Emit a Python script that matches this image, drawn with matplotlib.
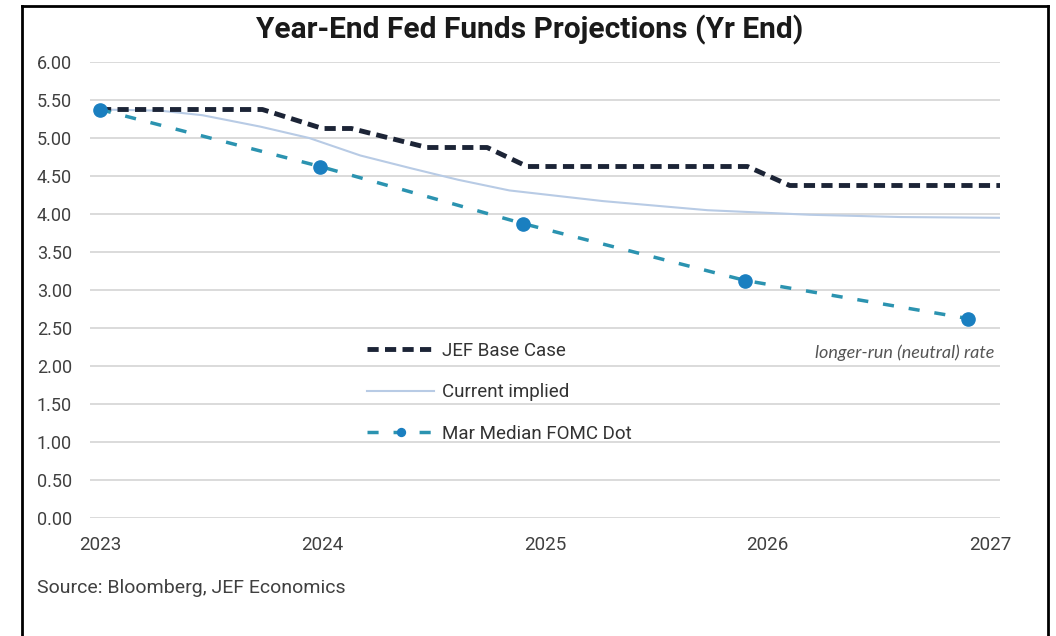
import matplotlib.pyplot as plt
from matplotlib.lines import Line2D

# values (x in fractional years)
jef_x = [2023.00, 2023.73, 2024.00, 2024.13, 2024.47, 2024.74, 2024.92, 2025.91, 2026.10, 2027.045]
jef_y = [5.375, 5.375, 5.125, 5.125, 4.875, 4.875, 4.625, 4.625, 4.375, 4.375]

implied_x = [2023.00, 2023.27, 2023.46, 2023.72, 2023.94, 2024.17, 2024.40, 2024.61,
             2024.84, 2025.26, 2025.73, 2026.19, 2026.60, 2027.045]
implied_y = [5.375, 5.36, 5.30, 5.15, 5.00, 4.77, 4.60, 4.45, 4.31, 4.17, 4.05, 3.99, 3.96, 3.95]

fomc_x = [2023.00, 2023.99, 2024.90, 2025.90, 2026.90]
fomc_y = [5.375, 4.625, 3.875, 3.125, 2.625]

years = [2023, 2024, 2025, 2026, 2027]
yticks = [0, 0.5, 1, 1.5, 2, 2.5, 3, 3.5, 4, 4.5, 5, 5.5, 6]

plt.rcParams['font.family'] = ['Roboto', 'DejaVu Sans']

fig = plt.figure(figsize=(10.56, 6.36), dpi=100)
ax = fig.add_axes([90/1056, 1 - 518/636, 910/1056, 456/636])

ax.plot(jef_x, jef_y, color='#1c2436', lw=3.5, dashes=(2.3, 1.3),
        dash_capstyle='butt', label='JEF Base Case', zorder=3)
ax.plot(implied_x, implied_y, color='#b8cbe5', lw=1.5, label='Current implied', zorder=2)
ax.plot(fomc_x, fomc_y, color='#2b93b0', lw=2.5, dashes=(3.2, 4.3),
        marker='o', markersize=9.5, markerfacecolor='#1a7fc0', markeredgecolor='#1a7fc0',
        label='Mar Median FOMC Dot', zorder=4)

ax.set_xlim(2023 - 10/222.5, 2023 + 900/222.5)
ax.set_ylim(0, 6)
ax.set_xticks(years)
ax.set_xticklabels([str(y) for y in years])
ax.set_yticks(yticks)
ax.set_yticklabels(['{:.2f}'.format(v) for v in yticks])
ax.tick_params(length=0, labelsize=13, colors='#404040')
ax.tick_params(axis='x', pad=13, labelsize=13.5)
ax.tick_params(axis='y', pad=13)
ax.grid(axis='y', color='#dadada', lw=1.4)
ax.set_axisbelow(True)
for s in ax.spines.values():
    s.set_visible(False)

leg = ax.legend(loc='upper left', bbox_to_anchor=(0.294, 0.407), frameon=False,
                handlelength=3.6, labelspacing=1.25, fontsize=13.5, borderpad=0,
                handletextpad=0.4, markerscale=0.6)
for t in leg.get_texts():
    t.set_color('#333333')

ax.text(2027.02, 2.18, 'longer-run (neutral) rate', ha='right', va='center',
        fontsize=13, style='italic', color='#555555', family=['Lato', 'DejaVu Sans'])

fig.text(530/1056, 1 - 30/636, 'Year-End Fed Funds Projections (Yr End)',
         ha='center', va='center', fontsize=21.5, fontweight='bold', color='#1a1a1a')
fig.text(37/1056, 1 - 588/636, 'Source: Bloomberg, JEF Economics',
         ha='left', va='center', fontsize=14, color='#404040')

# black frame around the chart (no bottom edge visible)
fw, fh = 1056, 636
for xs, ys in [([22, 22], [636, 6]), ([22, 1048], [6, 6]), ([1048, 1048], [6, 636])]:
    fig.add_artist(Line2D([x/fw for x in xs], [1 - y/fh for y in ys],
                          transform=fig.transFigure, color='black', lw=2))

fig.savefig('out.png', dpi=100)
